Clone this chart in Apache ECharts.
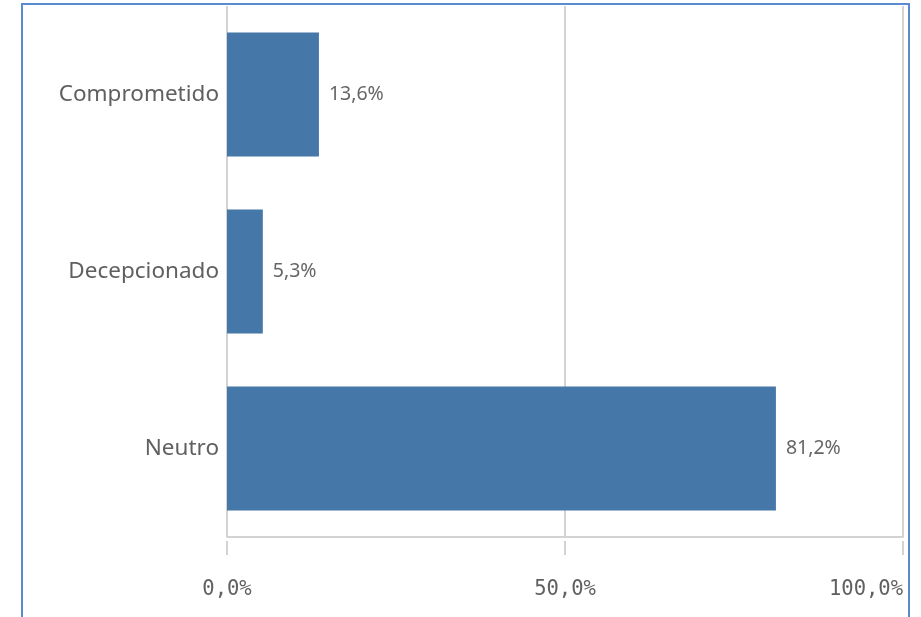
<!DOCTYPE html>
<html><head><meta charset="utf-8">
<script src="https://cdn.jsdelivr.net/npm/echarts@6/dist/echarts.min.js"></script>
<style>html,body{margin:0;padding:0;background:#fff}#c{width:921px;height:617px}</style>
</head><body><div id="c"></div>
<script>
const categories = ['Comprometido', 'Decepcionado', 'Neutro'];
const values = [13.6, 5.3, 81.2];
const axisMin = 0, axisMax = 100, axisInterval = 50;

const fmt = v => v.toFixed(1).replace('.', ',') + '%';
const chart = echarts.init(document.getElementById('c'));
const grey = '#d3d3d3';
chart.setOption({
  animation: false,
  backgroundColor: '#fff',
  graphic: [{
    type: 'rect', shape: {x: 22, y: 4, width: 887, height: 700},
    style: {fill: 'none', stroke: '#5a8ad0', lineWidth: 2}, z: 100
  }],
  grid: {left: 227, right: 18, top: 6, bottom: 80},
  xAxis: [{
    type: 'value', min: axisMin, max: axisMax, interval: axisInterval, position: 'bottom',
    axisLine: {show: true, lineStyle: {color: grey, width: 2}},
    axisTick: {show: false}, axisLabel: {show: false},
    splitLine: {show: true, lineStyle: {color: grey, width: 2}}
  }, {
    type: 'value', min: axisMin, max: axisMax, interval: axisInterval, position: 'bottom', offset: 4,
    axisLine: {show: false},
    axisTick: {show: true, length: 14, lineStyle: {color: grey, width: 2}},
    splitLine: {show: false},
    axisLabel: {show: true, margin: 38, fontFamily: 'DejaVu Sans Mono', fontSize: 20.5, color: '#606060',
      formatter: fmt, alignMaxLabel: 'right'}
  }],
  yAxis: {
    type: 'category', data: categories, inverse: true,
    axisLine: {show: false}, axisTick: {show: false}, splitLine: {show: false},
    axisLabel: {margin: 8, fontFamily: 'Noto Sans', fontSize: 22.5, color: '#606060'}
  },
  series: [{
    type: 'bar', data: values, xAxisIndex: 0, barCategoryGap: '30%',
    itemStyle: {color: '#4577a9'},
    label: {show: true, position: 'right', distance: 10, formatter: p => fmt(p.value),
      fontFamily: 'Noto Sans', fontSize: 19.5, color: '#666666'}
  }]
});
</script></body></html>
